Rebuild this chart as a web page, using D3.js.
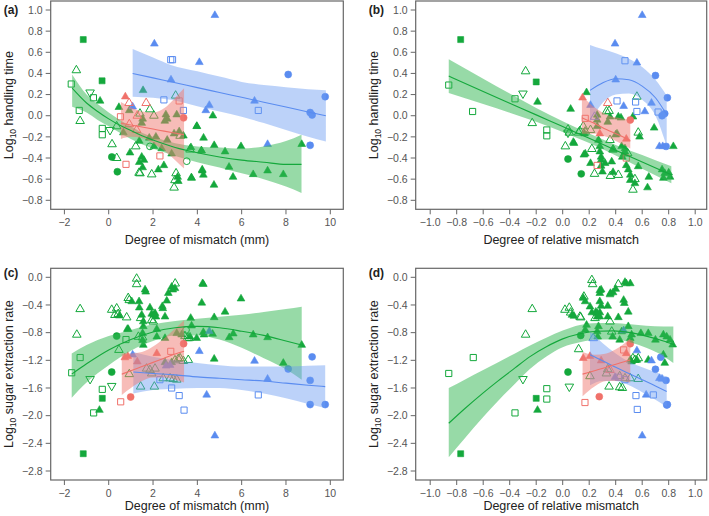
<!DOCTYPE html>
<html><head><meta charset="utf-8">
<script src="https://cdn.jsdelivr.net/npm/d3@7"></script>
<style>body{margin:0;background:#fff}svg{display:block;font-family:"Liberation Sans",Arial,sans-serif}</style>
</head><body><svg id="chart" width="709" height="516"></svg>
<script>
// ---------- DATA ----------
// point codes: T filled triangle, t open triangle, v open inverted triangle,
// s open square, S filled square, C filled circle, c open circle
const xTicksMm = [-2,0,2,4,6,8,10];
const xTicksRel = [-1.0,-0.8,-0.6,-0.4,-0.2,0.0,0.2,0.4,0.6,0.8,1.0];
const yTicksHT = [-0.8,-0.6,-0.4,-0.2,0.0,0.2,0.4,0.6,0.8,1.0];
const yTicksSER = [-2.8,-2.4,-2.0,-1.6,-1.2,-0.8,-0.4,0.0];

// Panel (a)
const aGreen = [[-1.15,0.72,'S'],[-0.30,0.33,'S'],
 [-1.46,0.43,'t'],[-1.29,-0.05,'t'],[3.02,0.19,'t'],[1.86,0.06,'t'],[2.04,0.0,'t'],[0.36,-0.10,'t'],[0.15,-0.27,'t'],[0.36,-0.40,'t'],[1.22,-0.29,'t'],[1.41,-0.545,'t'],[1.94,-0.555,'t'],[2.99,-0.61,'t'],[2.95,-0.68,'t'],[3.04,-0.545,'t'],[3.22,-0.19,'t'],[3.67,-0.32,'t'],[1.37,-0.54,'t'],[1.41,0.02,'t'],
 [-0.84,0.22,'v'],[0.06,-0.135,'v'],
 [-1.69,0.30,'s'],[-0.69,0.17,'s'],[-1.33,0.05,'s'],[-0.29,-0.12,'s'],[-0.29,-0.18,'s'],
 [0.14,-0.39,'C'],[0.39,-0.53,'C'],[1.86,-0.29,'c'],[3.52,-0.43,'c'],
 [-0.39,0.14,'T'],[0.46,0.08,'T'],[1.55,0.24,'T'],[0.93,0.05,'T'],[2.58,0.01,'T'],[2.64,-0.03,'T'],[2.53,-0.05,'T'],[3.07,0.01,'T'],[1.49,-0.07,'T'],[1.53,-0.03,'T'],[3.97,-0.10,'T'],[0.66,-0.16,'T'],[3.18,-0.15,'T'],[1.38,-0.24,'T'],[1.83,-0.21,'T'],[2.13,-0.20,'T'],[2.64,-0.23,'T'],[2.04,-0.29,'T'],[2.39,-0.31,'T'],[4.19,-0.33,'T'],[2.84,-0.36,'T'],[0.96,-0.35,'T'],[1.49,-0.39,'T'],[1.59,-0.42,'T'],[1.38,-0.44,'T'],[1.53,-0.49,'T'],[2.24,-0.51,'T'],[2.49,-0.47,'T'],[3.11,-0.58,'T'],[3.74,-0.59,'T'],[4.22,-0.51,'T'],[4.70,0.0,'T'],[3.98,-0.10,'T'],[4.28,-0.21,'T'],[3.71,-0.30,'T'],[4.18,-0.33,'T'],[4.76,-0.28,'T'],[5.25,-0.34,'T'],[5.97,-0.29,'T'],[8.71,-0.27,'T'],[5.43,-0.485,'T'],[4.22,-0.52,'T'],[4.27,-0.56,'T'],[3.73,-0.585,'T'],[5.61,-0.58,'T'],[6.52,-0.555,'T'],[7.17,-0.52,'T'],[7.88,-0.555,'T'],[4.75,-0.655,'T'],[2.95,-0.17,'T'],[3.37,-0.19,'T'],[3.14,-0.62,'T']];
const aBlue = [[2.06,0.68,'T'],[2.81,0.34,'T'],[1.08,0.085,'T'],[4.79,0.95,'T'],[4.09,0.505,'T'],[6.58,0.14,'T'],[4.54,0.10,'T'],[4.38,0.05,'T'],[7.17,-0.27,'T'],
 [2.80,0.53,'s'],[2.88,0.53,'s'],[2.49,0.15,'s'],[3.37,0.05,'s'],[6.75,0.05,'s'],
 [8.10,0.39,'C'],[9.77,0.18,'C'],[9.09,0.03,'C'],[9.18,0.007,'C'],[9.09,-0.28,'C']];
const aRed = [[0.75,0.18,'T'],[0.92,0.12,'t'],[1.69,0.12,'t'],[0.93,-0.08,'t'],[1.26,-0.135,'t'],[1.29,0.0,'t'],
 [0.53,-0.01,'s'],[3.18,0.14,'s'],[0.78,-0.46,'s'],[2.31,-0.38,'s'],[3.38,-0.02,'C']];

const aGreenFitX = [-1.65,-1,-0.5,0,0.5,1,1.5,2,3,4,5,6,7,8,8.7];
const aGreenFitY = [0.26,0.12,0.04,-0.03,-0.09,-0.14,-0.19,-0.23,-0.30,-0.35,-0.39,-0.42,-0.44,-0.46,-0.46];
const aGreenFitHi = [0.39,0.20,0.11,0.03,-0.04,-0.10,-0.16,-0.20,-0.26,-0.29,-0.30,-0.31,-0.29,-0.24,-0.18];
const aGreenFitLo = [0.085,0.03,-0.04,-0.10,-0.16,-0.22,-0.27,-0.31,-0.38,-0.44,-0.49,-0.545,-0.60,-0.67,-0.73];
const aBlueFitX = [1.08,2,2.8,4,5,6,7,8,9,9.8];
const aBlueFitY = [0.40,0.358,0.321,0.266,0.220,0.174,0.128,0.082,0.036,0.0];
const aBlueFitHi = [0.63,0.55,0.48,0.42,0.37,0.32,0.29,0.27,0.25,0.24];
const aBlueFitLo = [0.18,0.17,0.15,0.09,0.04,-0.01,-0.07,-0.135,-0.20,-0.245];
const aRedFitX = [0.55,1,1.5,2,2.5,3,3.4];
const aRedFitY = [-0.07,-0.087,-0.107,-0.126,-0.146,-0.165,-0.18];
const aRedFitHi = [0.13,0.08,0.04,0.03,0.07,0.17,0.26];
const aRedFitLo = [-0.22,-0.20,-0.21,-0.26,-0.33,-0.42,-0.50];

// Panel (b)
const bGreen = [[-0.77,0.72,'S'],[-0.20,0.32,'S'],
 [-0.86,0.29,'s'],[-0.68,0.04,'s'],[-0.36,0.16,'s'],[-0.12,-0.135,'s'],[-0.12,-0.19,'s'],
 [-0.28,0.42,'t'],[-0.23,-0.07,'t'],[0.04,-0.13,'t'],[0.02,-0.29,'t'],[0.12,-0.16,'t'],[0.155,-0.10,'t'],[0.17,-0.15,'t'],[0.22,-0.315,'t'],[0.24,-0.55,'t'],[0.36,-0.57,'t'],[0.42,-0.56,'t'],[0.357,-0.23,'t'],[0.38,-0.32,'t'],[0.35,0.045,'t'],[0.21,-0.135,'t'],[0.49,-0.355,'t'],[0.53,-0.70,'t'],[0.56,0.18,'t'],[0.57,-0.16,'t'],[0.05,-0.16,'t'],[0.13,-0.145,'t'],[0.33,0.04,'t'],[0.545,-0.60,'t'],
 [-0.30,0.21,'v'],[0.04,-0.16,'v'],
 [0.04,-0.41,'C'],[0.14,-0.55,'C'],
 [-0.19,0.13,'T'],[0.06,0.063,'T'],[0.085,-0.26,'T'],[0.16,-0.37,'T'],[0.18,0.22,'T'],[0.21,-0.45,'T'],[0.27,-0.23,'T'],[0.28,-0.29,'T'],[0.28,-0.34,'T'],[0.29,-0.39,'T'],[0.29,-0.42,'T'],[0.29,-0.475,'T'],[0.30,-0.53,'T'],[0.38,-0.535,'T'],[0.37,-0.435,'T'],[0.40,-0.18,'T'],[0.42,-0.01,'T'],[0.44,-0.02,'T'],[0.357,-0.01,'T'],[0.26,0.007,'T'],[0.26,-0.10,'T'],[0.445,-0.29,'T'],[0.47,-0.31,'T'],[0.465,-0.36,'T'],[0.45,-0.39,'T'],[0.48,-0.47,'T'],[0.495,-0.51,'T'],[0.51,-0.56,'T'],[0.51,-0.61,'T'],[0.545,-0.64,'T'],[0.57,-0.48,'T'],[0.58,-0.20,'T'],[0.69,-0.115,'T'],[0.65,-0.58,'T'],[0.64,-0.68,'T'],[0.835,-0.29,'T'],[0.75,-0.51,'T'],[0.77,-0.545,'T'],[0.76,-0.59,'T'],[0.80,-0.54,'T'],[0.81,-0.58,'T'],[0.53,-0.01,'T'],[0.41,-0.17,'T'],[0.38,-0.32,'T'],[0.17,-0.36,'T'],[0.08,-0.25,'T'],[0.32,-0.45,'T'],[0.34,-0.06,'T'],[0.165,-0.17,'T'],[0.26,-0.04,'T'],[0.47,-0.34,'T']];
const bBlue = [[0.60,0.95,'T'],[0.395,0.68,'T'],[0.56,0.50,'T'],[0.40,0.34,'T'],[0.46,0.09,'T'],[0.62,0.04,'T'],[0.67,0.12,'T'],[0.73,-0.29,'T'],[0.755,-0.29,'T'],[0.21,0.10,'T'],
 [0.47,0.52,'s'],[0.41,0.14,'s'],[0.55,0.13,'s'],[0.56,0.04,'s'],[0.72,0.035,'s'],
 [0.70,0.38,'C'],[0.79,0.17,'C'],[0.75,0.0,'C'],[0.77,0.02,'C'],[0.78,-0.29,'C'],[0.24,-0.01,'t']];
const bRed = [[0.15,0.17,'T'],[0.28,-0.17,'T'],[0.48,-0.22,'T'],[0.34,0.12,'t'],
 [0.17,-0.025,'s'],[0.48,-0.40,'s'],[0.26,-0.47,'s'],[0.51,-0.04,'C']];

const bGreenFitX = [-0.86,-0.6,-0.4,-0.2,0,0.2,0.4,0.6,0.82];
const bGreenFitY = [0.375,0.23,0.119,0.008,-0.103,-0.214,-0.326,-0.437,-0.559];
const bGreenFitHi = [0.535,0.35,0.21,0.073,-0.053,-0.169,-0.276,-0.372,-0.479];
const bGreenFitLo = [0.215,0.11,0.029,-0.057,-0.153,-0.259,-0.376,-0.502,-0.639];
const bBlueFitX = [0.206,0.3,0.4,0.5,0.6,0.7,0.785];
const bBlueFitY = [0.24,0.31,0.35,0.34,0.28,0.17,0.01];
const bBlueFitHi = [0.67,0.63,0.59,0.54,0.46,0.34,0.19];
const bBlueFitLo = [-0.06,0.12,0.20,0.21,0.15,0.0,-0.29];
const bRedFitX = [0.145,0.25,0.33,0.42,0.51];
const bRedFitY = [-0.02,-0.08,-0.13,-0.18,-0.235];
const bRedFitHi = [0.19,0.07,0.01,-0.02,-0.04];
const bRedFitLo = [-0.17,-0.17,-0.20,-0.25,-0.31];

// Panel (c)
const cGreen = [[-1.15,-2.55,'S'],[-0.29,-1.75,'S'],
 [-1.29,-0.46,'t'],[-1.44,-0.83,'t'],[0.46,-1.05,'t'],[0.135,-0.47,'t'],[0.36,-0.45,'t'],[0.28,-0.545,'t'],[0.43,-0.53,'t'],[0.81,-0.58,'t'],[0.88,-0.30,'t'],[0.93,-0.33,'t'],[1.26,-0.02,'t'],[1.26,-0.10,'t'],[3.0,-0.09,'t'],[1.44,-0.59,'t'],[1.94,-0.62,'t'],[2.01,-0.64,'t'],[1.34,-0.86,'t'],[1.53,-0.87,'t'],[0.93,-1.40,'t'],[3.55,-0.88,'t'],[3.44,-0.85,'t'],[3.62,-0.88,'t'],[2.99,-1.20,'t'],[3.14,-1.18,'t'],[3.22,-1.17,'t'],[1.71,-1.32,'t'],[2.09,-1.32,'t'],[1.94,-1.39,'t'],[2.46,-1.46,'t'],[2.77,-1.46,'t'],[3.07,-1.48,'t'],[1.44,-1.58,'t'],[2.06,-1.58,'t'],[3.59,-1.195,'t'],[3.37,-1.21,'t'],[2.91,-1.47,'t'],[1.86,-1.34,'t'],
 [-0.84,-1.47,'v'],[0.135,-1.57,'v'],
 [-1.29,-1.16,'s'],[-1.67,-1.38,'s'],[-0.29,-1.62,'s'],[-0.68,-1.96,'s'],[0.78,-0.90,'s'],
 [0.135,-1.37,'C'],[0.36,-0.85,'C'],[3.49,-0.76,'c'],
 [-0.42,-1.92,'T'],[1.04,-0.35,'T'],[0.84,-0.75,'T'],[1.37,-0.35,'T'],[1.64,-0.18,'T'],[1.67,-0.21,'T'],[2.99,-0.16,'T'],[2.89,-0.18,'T'],[2.69,-0.23,'T'],[2.62,-0.34,'T'],[4.24,-0.09,'T'],[4.27,-0.10,'T'],[4.20,-0.37,'T'],[0.48,-0.555,'T'],[1.38,-0.44,'T'],[1.86,-0.44,'T'],[2.44,-0.45,'T'],[1.49,-0.545,'T'],[1.94,-0.53,'T'],[2.04,-0.545,'T'],[2.13,-0.57,'T'],[2.09,-0.52,'T'],[2.54,-0.57,'T'],[1.56,-0.71,'T'],[1.53,-0.81,'T'],[1.53,-0.91,'T'],[1.56,-0.98,'T'],[0.88,-0.75,'T'],[2.17,-0.75,'T'],[2.17,-0.86,'T'],[2.54,-0.88,'T'],[3.07,-0.81,'T'],[3.29,-0.83,'T'],[3.70,-0.59,'T'],[3.67,-0.86,'T'],[3.97,-0.88,'T'],[4.30,-0.83,'T'],[5.97,-0.31,'T'],[5.25,-0.50,'T'],[4.76,-0.58,'T'],[3.74,-0.70,'T'],[4.27,-0.795,'T'],[4.69,-0.82,'T'],[5.62,-0.815,'T'],[5.44,-0.87,'T'],[6.52,-0.83,'T'],[7.17,-0.87,'T'],[8.71,-0.98,'T'],[7.88,-1.24,'T'],[4.76,-1.18,'T'],[2.54,-1.23,'T'],[2.84,-1.23,'T'],[2.42,-0.42,'T'],[2.84,-0.14,'T'],[1.56,-0.64,'T']];
const cBlue = [[1.08,-1.12,'T'],[4.09,-1.07,'T'],[2.77,-1.27,'T'],[2.59,-1.28,'T'],[4.42,-1.70,'T'],[6.58,-1.21,'T'],[7.17,-1.47,'T'],[4.79,-2.29,'T'],[4.54,-0.78,'T'],
 [2.31,-1.48,'s'],[2.84,-1.60,'s'],[3.18,-1.71,'s'],[3.40,-1.92,'s'],[6.75,-1.70,'s'],
 [8.10,-1.325,'C'],[9.18,-1.15,'C'],[9.09,-1.49,'C'],[9.09,-1.84,'C'],[9.77,-1.84,'C']];
const cRed = [[0.73,-1.16,'T'],[0.86,-1.14,'T'],[2.17,-1.10,'T'],[1.29,-1.22,'T'],
 [0.54,-1.80,'s'],[2.80,-1.07,'s'],[0.99,-1.73,'C'],[3.38,-0.96,'C']];

const cGreenFitX = [-1.67,-1,0,1,2,3,4,5,6,7,8,8.71];
const cGreenFitY = [-1.40,-1.25,-1.05,-0.90,-0.79,-0.73,-0.71,-0.73,-0.78,-0.84,-0.92,-0.98];
const cGreenFitHi = [-1.10,-0.98,-0.85,-0.76,-0.68,-0.63,-0.60,-0.57,-0.54,-0.50,-0.46,-0.425];
const cGreenFitLo = [-1.74,-1.52,-1.27,-1.06,-0.92,-0.84,-0.84,-0.90,-1.02,-1.17,-1.33,-1.48];
const cBlueFitX = [1.11,2,3,4,5,6,7,8,9,9.77];
const cBlueFitY = [-1.37,-1.39,-1.41,-1.44,-1.46,-1.48,-1.50,-1.53,-1.56,-1.58];
const cBlueFitHi = [-1.08,-1.15,-1.20,-1.24,-1.27,-1.29,-1.29,-1.29,-1.28,-1.27];
const cBlueFitLo = [-1.68,-1.63,-1.61,-1.60,-1.60,-1.63,-1.68,-1.75,-1.83,-1.89];
const cRedFitX = [0.59,1,1.5,2,2.5,3,3.4];
const cRedFitY = [-1.40,-1.35,-1.29,-1.23,-1.17,-1.11,-1.07];
const cRedFitHi = [-1.10,-1.10,-1.08,-1.00,-0.88,-0.74,-0.62];
const cRedFitLo = [-1.70,-1.60,-1.50,-1.45,-1.45,-1.48,-1.52];

// Panel (d)
const dGreen = [[-0.86,-1.39,'s'],[-0.675,-1.16,'s'],[-0.36,-1.96,'s'],[-0.12,-1.61,'s'],[-0.12,-1.76,'s'],
 [-0.77,-2.55,'S'],[-0.20,-1.75,'S'],[-0.30,-1.47,'v'],[0.05,-1.58,'v'],
 [-0.28,-0.83,'t'],[-0.23,-0.46,'t'],[0.017,-0.47,'t'],[0.05,-0.44,'t'],[0.06,-0.51,'t'],[0.136,-0.58,'t'],[0.12,-1.04,'t'],[0.22,-0.04,'t'],[0.226,-0.10,'t'],[0.42,-0.10,'t'],[0.16,-0.28,'t'],[0.244,-0.59,'t'],[0.357,-0.64,'t'],[0.37,-0.785,'t'],[0.13,-0.57,'t'],[0.206,-1.43,'t'],[0.34,-1.33,'t'],[0.33,-1.39,'t'],[0.43,-1.43,'t'],[0.47,-1.46,'t'],[0.51,-1.46,'t'],[0.57,-1.47,'t'],[0.35,-1.58,'t'],[0.43,-1.59,'t'],[0.45,-1.60,'t'],[0.53,-1.17,'t'],[0.57,-1.17,'t'],[0.545,-1.195,'t'],
 [0.04,-1.37,'C'],[0.136,-0.84,'C'],
 [-0.19,-1.92,'T'],[0.07,-0.545,'T'],[0.085,-0.56,'T'],[0.28,-0.19,'T'],[0.28,-0.23,'T'],[0.48,-0.09,'T'],[0.51,-0.09,'T'],[0.47,-0.07,'T'],[0.40,-0.17,'T'],[0.36,-0.23,'T'],[0.38,-0.22,'T'],[0.29,-0.18,'T'],[0.17,-0.35,'T'],[0.155,-0.30,'T'],[0.206,-0.425,'T'],[0.28,-0.35,'T'],[0.29,-0.415,'T'],[0.25,-0.50,'T'],[0.26,-0.52,'T'],[0.28,-0.51,'T'],[0.26,-0.57,'T'],[0.28,-0.57,'T'],[0.34,-0.415,'T'],[0.34,-0.57,'T'],[0.46,-0.33,'T'],[0.465,-0.375,'T'],[0.42,-0.58,'T'],[0.495,-0.50,'T'],[0.495,-0.71,'T'],[0.445,-0.785,'T'],[0.18,-0.69,'T'],[0.17,-0.76,'T'],[0.27,-0.71,'T'],[0.26,-0.785,'T'],[0.264,-0.86,'T'],[0.377,-0.86,'T'],[0.43,-0.905,'T'],[0.52,-0.83,'T'],[0.51,-0.88,'T'],[0.59,-0.81,'T'],[0.646,-0.81,'T'],[0.70,-0.905,'T'],[0.76,-0.83,'T'],[0.785,-0.86,'T'],[0.81,-0.905,'T'],[0.83,-0.975,'T'],[0.51,-1.195,'T'],[0.52,-1.22,'T'],[0.56,-1.195,'T'],[0.646,-1.195,'T'],[0.76,-1.12,'T'],[0.77,-1.24,'T'],[0.357,-0.25,'T'],[0.22,-0.51,'T']];
const dBlue = [[0.46,-0.77,'T'],[0.56,-1.06,'T'],[0.67,-1.205,'T'],[0.73,-1.46,'T'],[0.75,-1.47,'T'],[0.395,-1.445,'T'],[0.63,-1.70,'T'],[0.60,-2.29,'T'],
 [0.42,-1.445,'s'],[0.47,-1.48,'s'],[0.684,-1.70,'s'],[0.553,-1.71,'s'],[0.563,-1.91,'s'],
 [0.74,-1.155,'C'],[0.70,-1.33,'C'],[0.78,-1.49,'C'],[0.785,-1.845,'C'],[0.79,-1.84,'C'],[0.23,-0.88,'t']];
const dRed = [[0.155,-1.17,'T'],[0.206,-1.14,'T'],[0.29,-1.205,'T'],[0.48,-1.10,'T'],[0.357,-1.34,'t'],
 [0.168,-1.81,'s'],[0.46,-1.05,'s'],[0.51,-0.96,'C'],[0.276,-1.725,'C']];

const dGreenFitX = [-0.86,-0.74,-0.60,-0.49,-0.36,-0.25,-0.12,0.0,0.13,0.26,0.38,0.51,0.63,0.76,0.835];
const dGreenFitY = [-2.11,-1.90,-1.67,-1.50,-1.31,-1.15,-1.00,-0.89,-0.815,-0.78,-0.775,-0.80,-0.85,-0.92,-0.97];
const dGreenFitHi = [-1.60,-1.48,-1.34,-1.23,-1.10,-0.99,-0.87,-0.77,-0.69,-0.66,-0.66,-0.68,-0.70,-0.71,-0.71];
const dGreenFitLo = [-2.60,-2.33,-2.02,-1.79,-1.54,-1.33,-1.14,-1.01,-0.94,-0.90,-0.90,-0.94,-1.02,-1.14,-1.24];
const dBlueFitX = [0.206,0.3,0.4,0.5,0.6,0.7,0.785];
const dBlueFitY = [-1.12,-1.205,-1.30,-1.39,-1.48,-1.57,-1.65];
const dBlueFitHi = [-0.785,-0.95,-1.10,-1.22,-1.30,-1.37,-1.44];
const dBlueFitLo = [-1.56,-1.50,-1.50,-1.56,-1.66,-1.77,-1.87];
const dRedFitX = [0.15,0.24,0.33,0.42,0.51];
const dRedFitY = [-1.40,-1.35,-1.30,-1.245,-1.195];
const dRedFitHi = [-1.08,-1.12,-1.10,-1.02,-0.88];
const dRedFitLo = [-1.72,-1.58,-1.50,-1.50,-1.52];

// ---------- STYLE ----------
const COL = {green:'#14a83c', blue:'#5a8cf0', red:'#f0716a'};
const BAND = {green:'#2fb54f', blue:'#6b9bf2', red:'#f07a72'};
const BANDOP = {green:0.5, blue:0.45, red:0.5};

const svg = d3.select('#chart');
const fmt1 = d3.format('.1f');
const fmtInt = d3.format('d');

const xMm = d3.scaleLinear().domain([-2,10]).range([64.4,330.3]);
const xRel = d3.scaleLinear().domain([-1,1]).range([430.2,695.2]);
const yHT = d3.scaleLinear().domain([-0.8,1.0]).range([200.3,10]);
const ySER = d3.scaleLinear().domain([-2.8,0]).range([471,277.3]);

function fit(X,Y,Lo,Hi,color){return {color, pts:X.map((x,i)=>({x, y:Y[i], lo:Lo[i], hi:Hi[i]}))};}

const panels = [
 {label:'(a)', xs:xMm, ys:yHT, frame:[50.7,1,343.3,209.3], labY:14, titleY:244, xt:xTicksMm, yt:yTicksHT, xf:fmtInt, xtitle:'Degree of mismatch (mm)', ytitle:'handling time',
  series:[['green',aGreen],['blue',aBlue],['red',aRed]],
  fits:[fit(aGreenFitX,aGreenFitY,aGreenFitLo,aGreenFitHi,'green'),fit(aBlueFitX,aBlueFitY,aBlueFitLo,aBlueFitHi,'blue'),fit(aRedFitX,aRedFitY,aRedFitLo,aRedFitHi,'red')]},
 {label:'(b)', xs:xRel, ys:yHT, frame:[415.7,1,706.7,209.3], labY:14, titleY:244, xt:xTicksRel, yt:yTicksHT, xf:fmt1, xtitle:'Degree of relative mismatch', ytitle:'handling time',
  series:[['green',bGreen],['blue',bBlue],['red',bRed]],
  fits:[fit(bGreenFitX,bGreenFitY,bGreenFitLo,bGreenFitHi,'green'),fit(bBlueFitX,bBlueFitY,bBlueFitLo,bBlueFitHi,'blue'),fit(bRedFitX,bRedFitY,bRedFitLo,bRedFitHi,'red')]},
 {label:'(c)', xs:xMm, ys:ySER, frame:[50.7,268.3,343.3,480], labY:277, titleY:510, xt:xTicksMm, yt:yTicksSER, xf:fmtInt, xtitle:'Degree of mismatch (mm)', ytitle:'sugar extraction rate',
  series:[['green',cGreen],['blue',cBlue],['red',cRed]],
  fits:[fit(cGreenFitX,cGreenFitY,cGreenFitLo,cGreenFitHi,'green'),fit(cBlueFitX,cBlueFitY,cBlueFitLo,cBlueFitHi,'blue'),fit(cRedFitX,cRedFitY,cRedFitLo,cRedFitHi,'red')]},
 {label:'(d)', xs:xRel, ys:ySER, frame:[415.7,268.3,706.7,480], labY:277, titleY:510, xt:xTicksRel, yt:yTicksSER, xf:fmt1, xtitle:'Degree of relative mismatch', ytitle:'sugar extraction rate',
  series:[['green',dGreen],['blue',dBlue],['red',dRed]],
  fits:[fit(dGreenFitX,dGreenFitY,dGreenFitLo,dGreenFitHi,'green'),fit(dBlueFitX,dBlueFitY,dBlueFitLo,dBlueFitHi,'blue'),fit(dRedFitX,dRedFitY,dRedFitLo,dRedFitHi,'red')]}
];

const symTri = d3.symbol().type(d3.symbolTriangle);
function drawPoint(g, code, color, px, py){
  let path, fill='none', stroke=color, tf=`translate(${px},${py})`;
  switch(code){
    case 'T': path=symTri.size(26)(); fill=color; break;
    case 't': path=symTri.size(32)(); break;
    case 'v': path=symTri.size(32)(); tf+=' rotate(180)'; break;
    case 's': path=d3.symbol().type(d3.symbolSquare).size(38)(); break;
    case 'S': path=d3.symbol().type(d3.symbolSquare).size(36)(); fill=color; break;
    case 'C': path=d3.symbol().type(d3.symbolCircle).size(38)(); fill=color; break;
    case 'c': path=d3.symbol().type(d3.symbolCircle).size(36)(); break;
  }
  g.append('path').attr('d',path).attr('transform',tf)
   .attr('fill',fill).attr('stroke',stroke).attr('stroke-width', fill==='none'?1:0.6);
}

panels.forEach(p=>{
  const [L,T,R,B] = p.frame;
  const g = svg.append('g');
  const clipId = 'clip'+p.label.replace(/\W/g,'');
  svg.append('clipPath').attr('id',clipId).append('rect').attr('x',L).attr('y',T).attr('width',R-L).attr('height',B-T);
  const plot = g.append('g').attr('clip-path',`url(#${clipId})`);
  p.series.forEach(([c,arr])=>{
    arr.forEach(d=>drawPoint(plot,d[2],COL[c],p.xs(d[0]),p.ys(d[1])));
  });
  const area = d3.area().x(d=>p.xs(d.x)).y0(d=>p.ys(d.lo)).y1(d=>p.ys(d.hi)).curve(d3.curveMonotoneX);
  const line = d3.line().x(d=>p.xs(d.x)).y(d=>p.ys(d.y)).curve(d3.curveMonotoneX);
  p.fits.forEach(f=>{
    plot.append('path').attr('d',area(f.pts)).attr('fill',BAND[f.color]).attr('fill-opacity',BANDOP[f.color]);
  });
  p.fits.forEach(f=>{
    plot.append('path').attr('d',line(f.pts)).attr('fill','none').attr('stroke',COL[f.color]).attr('stroke-width',1.1);
  });
  g.append('rect').attr('x',L).attr('y',T).attr('width',R-L).attr('height',B-T)
    .attr('fill','none').attr('stroke','#666').attr('stroke-width',1.2);
  p.xt.forEach(t=>{
    const x = p.xs(t);
    g.append('line').attr('x1',x).attr('x2',x).attr('y1',B).attr('y2',B+5).attr('stroke','#666').attr('stroke-width',1);
    g.append('text').attr('x',x).attr('y',B+16.5).attr('text-anchor','middle').attr('font-size',10.5).attr('fill','#555').text(p.xf(t));
  });
  p.yt.forEach(t=>{
    const y = p.ys(t);
    g.append('line').attr('x1',L-5).attr('x2',L).attr('y1',y).attr('y2',y).attr('stroke','#666').attr('stroke-width',1);
    g.append('text').attr('x',L-8).attr('y',y+3.7).attr('text-anchor','end').attr('font-size',10.5).attr('fill','#555').text(fmt1(t));
  });
  g.append('text').attr('x',(L+R)/2).attr('y',p.titleY).attr('text-anchor','middle').attr('font-size',12.5).attr('fill','#222').text(p.xtitle);
  const yt = g.append('text').attr('transform',`translate(${L-38},${(T+B)/2}) rotate(-90)`).attr('text-anchor','middle').attr('font-size',12.5).attr('fill','#222');
  yt.append('tspan').text('Log');
  yt.append('tspan').attr('font-size',8.5).attr('dy',3).text('10');
  yt.append('tspan').attr('dy',-3).text(' '+p.ytitle);
  g.append('text').attr('x',L-47).attr('y',p.labY).attr('font-size',12).attr('font-weight','bold').attr('fill','#222').text(p.label);
});
</script>
</body></html>
